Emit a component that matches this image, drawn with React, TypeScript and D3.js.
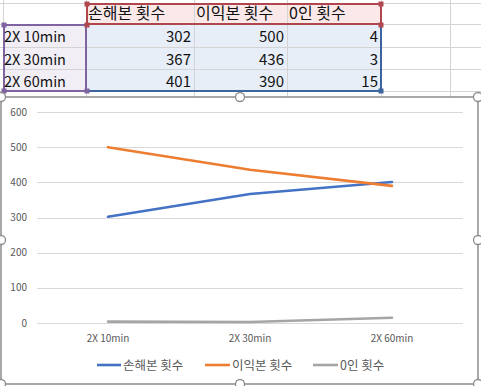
import React from "react";
import * as d3 from "d3";

const categories = ["2X 10min", "2X 30min", "2X 60min"];
const seriesNames = ["손해본 횟수", "이익본 횟수", "0인 횟수"];
const lossCounts = [302, 367, 401];
const gainCounts = [500, 436, 390];
const zeroCounts = [4, 3, 15];
const yTicks = [0, 100, 200, 300, 400, 500, 600];
const seriesColors = ["#4472C4", "#ED7D31", "#A5A5A5"];

const FONT = "'Noto Sans CJK KR', 'Noto Sans', sans-serif";

export default function App() {
  React.useEffect(() => {
    document.body.style.margin = "0";
  }, []);
  const W = 481, H = 386;
  const series = [lossCounts, gainCounts, zeroCounts];
  const x = d3.scalePoint<string>().domain(categories).range([37, 463]).padding(0.5);
  const y = d3.scaleLinear().domain([0, 600]).range([323, 112]);
  const line = d3
    .line<number>()
    .x((_, i) => x(categories[i]) as number)
    .y((d) => y(d));

  const colX = [3, 86, 194, 287, 381, 450];
  const rowY = [3, 24, 47, 69, 91];
  const gridColor = "#d4d4d4";

  const tableRows = categories.map((c, i) => [c, lossCounts[i], gainCounts[i], zeroCounts[i]]);

  const handleSq = (cx: number, cy: number, color: string, k: string) => (
    <rect key={k} x={cx - 2.5} y={cy - 2.5} width={5} height={5} fill={color} />
  );

  const chartL = 1, chartR = 478, chartT = 97, chartB = 384;
  const circ = (cx: number, cy: number, k: string) => (
    <circle key={k} cx={cx} cy={cy} r={4.5} fill="#fff" stroke="#8c8c8c" strokeWidth={1.3} />
  );

  const legendItems = [
    { x1: 97, x2: 121 },
    { x1: 205, x2: 230 },
    { x1: 313, x2: 338 },
  ];

  return (
    <svg width={W} height={H} style={{ position: "absolute", left: 0, top: 0, display: "block" }} fontFamily={FONT}>
      <rect x={0} y={0} width={W} height={H} fill="#fff" />
      {rowY.map((ry, i) => (
        <line key={"r" + i} x1={0} x2={W} y1={ry + 0.5} y2={ry + 0.5} stroke={gridColor} />
      ))}
      {colX.map((cx, i) => (
        <line key={"c" + i} x1={cx + 0.5} x2={cx + 0.5} y1={0} y2={chartT} stroke={gridColor} />
      ))}
      <rect x={colX[1]} y={rowY[0]} width={colX[4] - colX[1]} height={rowY[1] - rowY[0]} fill="#fbe9e9" />
      <rect x={colX[0]} y={rowY[1]} width={colX[1] - colX[0]} height={rowY[4] - rowY[1]} fill="#f1eef6" />
      <rect x={colX[1]} y={rowY[1]} width={colX[4] - colX[1]} height={rowY[4] - rowY[1]} fill="#e8eef8" />
      {[1, 2, 3].map((i) => (
        <line key={"ir" + i} x1={colX[0]} x2={colX[4]} y1={rowY[i] + 0.5} y2={rowY[i] + 0.5} stroke={gridColor} />
      ))}
      {[2, 3].map((i) => (
        <line key={"ic" + i} x1={colX[i] + 0.5} x2={colX[i] + 0.5} y1={rowY[0]} y2={rowY[4]} stroke={gridColor} />
      ))}
      <rect x={colX[1] + 1} y={rowY[0] + 1} width={colX[4] - colX[1] - 1} height={rowY[1] - rowY[0] - 1} fill="none" stroke="#b0474e" strokeWidth={2} />
      <rect x={colX[0] + 1} y={rowY[1] + 1} width={colX[1] - colX[0] - 1} height={rowY[4] - rowY[1] - 1} fill="none" stroke="#8064a2" strokeWidth={2} />
      <path d={`M${colX[1] + 2},${rowY[4]} H${colX[4]} V${rowY[1] + 2}`} fill="none" stroke="#3e64a0" strokeWidth={2} />
      {handleSq(colX[1] + 1, rowY[0] + 1, "#b0474e", "h1")}
      {handleSq(colX[4], rowY[0] + 1, "#b0474e", "h2")}
      {handleSq(colX[1] + 1, rowY[1] + 1, "#b0474e", "h3")}
      {handleSq(colX[4], rowY[1] + 1, "#b0474e", "h4")}
      {handleSq(colX[0] + 1, rowY[1] + 1, "#8064a2", "h5")}
      {handleSq(colX[0] + 1, rowY[4], "#8064a2", "h6")}
      {handleSq(colX[1] + 1, rowY[4], "#8064a2", "h7")}
      {handleSq(colX[4], rowY[4], "#3e64a0", "h8")}
      {seriesNames.map((n, i) => (
        <text key={"hd" + i} x={colX[i + 1] + 2} y={19} fontSize={16} fill="#111">
          {n}
        </text>
      ))}
      {tableRows.map((row, r) => (
        <g key={"tr" + r}>
          <text x={colX[0] + 1} y={rowY[r + 1] + 18} fontSize={14.5} fill="#111">
            {row[0]}
          </text>
          {[1, 2, 3].map((c) => (
            <text key={c} x={colX[c + 1] - 3} y={rowY[r + 1] + 18} fontSize={15} fill="#111" textAnchor="end">
              {row[c]}
            </text>
          ))}
        </g>
      ))}

      <rect x={chartL} y={chartT} width={chartR - chartL} height={chartB - chartT} fill="#fff" stroke="#8c8c8c" strokeWidth={1.5} rx={2} />
      {yTicks.map((t) => (
        <g key={"yt" + t}>
          <line x1={37} x2={463} y1={Math.round(y(t)) + 0.5} y2={Math.round(y(t)) + 0.5} stroke="#d9d9d9" strokeWidth={1} />
          <text x={27} y={y(t) + 3.5} fontSize={10} fill="#595959" textAnchor="end">
            {t}
          </text>
        </g>
      ))}
      {categories.map((c) => (
        <text key={"xc" + c} x={x(c) as number} y={342} fontSize={10} fill="#595959" textAnchor="middle">
          {c}
        </text>
      ))}
      {series.map((s, i) => (
        <path key={"s" + i} d={line(s) || ""} fill="none" stroke={seriesColors[i]} strokeWidth={2.6} strokeLinecap="round" strokeLinejoin="round" />
      ))}
      {seriesNames.map((n, i) => (
        <g key={"lg" + i}>
          <line x1={legendItems[i].x1} x2={legendItems[i].x2} y1={365} y2={365} stroke={seriesColors[i]} strokeWidth={2.6} />
          <text x={legendItems[i].x2 + 2} y={369.5} fontSize={12.5} fill="#595959">
            {n}
          </text>
        </g>
      ))}
      {circ(chartL, chartT, "c1")}
      {circ(240, chartT, "c2")}
      {circ(chartR, chartT, "c3")}
      {circ(chartL, 240, "c4")}
      {circ(chartR, 240, "c5")}
      {circ(chartL, chartB, "c6")}
      {circ(240, chartB, "c7")}
      {circ(chartR, chartB, "c8")}
    </svg>
  );
}
